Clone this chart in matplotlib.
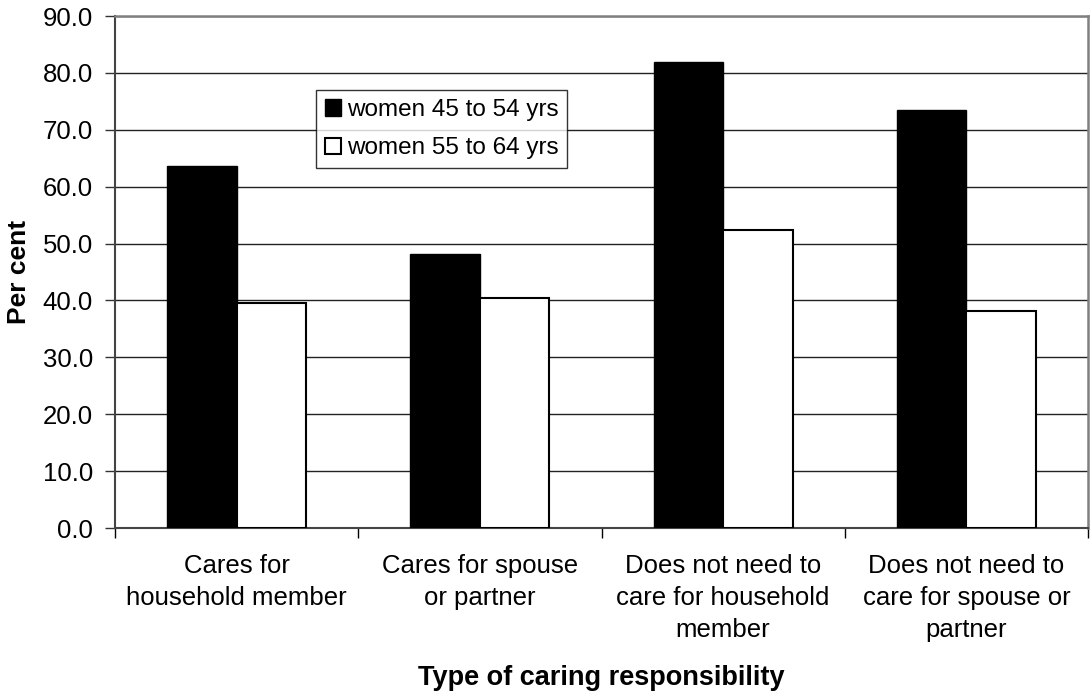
import matplotlib
matplotlib.use("Agg")
import matplotlib.pyplot as plt
import numpy as np

categories = ["Cares for\nhousehold member", "Cares for spouse\nor partner",
              "Does not need to\ncare for household\nmember",
              "Does not need to\ncare for spouse or\npartner"]
series_names = ["women 45 to 54 yrs", "women 55 to 64 yrs"]
women_45_54 = [63.7, 48.1, 82.0, 73.4]
women_55_64 = [39.5, 40.4, 52.4, 38.1]
yticks = [0, 10, 20, 30, 40, 50, 60, 70, 80, 90]

plt.rcParams['font.family'] = ['Liberation Sans', 'DejaVu Sans']

W, H = 1091, 693
fig = plt.figure(figsize=(W/100, H/100), dpi=100)
L, R, T, B = 115, 1088, 16, 528
ax = fig.add_axes([L/W, 1-B/H, (R-L)/W, (B-T)/H])

x = np.arange(len(categories))
bw = 1/3.5
ax.bar(x - bw/2, women_45_54, bw, color='black', edgecolor='black', linewidth=1, label=series_names[0], zorder=3)
ax.bar(x + bw/2, women_55_64, bw, color='white', edgecolor='black', linewidth=1.5, label=series_names[1], zorder=3)

ax.set_xlim(-0.5, len(categories)-0.5)
ax.set_ylim(0, 90)
ax.set_yticks(yticks)
ax.set_yticklabels([f"{v:.1f}" for v in yticks], fontsize=18.5)
ax.yaxis.grid(True, color='#222222', linewidth=1)
ax.set_axisbelow(True)

ax.set_xticks(x)
ax.set_xticklabels(categories, fontsize=18.5, linespacing=1.42, va='top')
ax.tick_params(axis='x', length=0, pad=19)
ax.set_xticks(np.arange(-0.5, len(categories)), minor=True)
ax.tick_params(axis='x', which='minor', length=7, color='black', width=1)
ax.tick_params(axis='y', length=7, color='#333333', width=1, pad=9)

for s in ['top', 'right']:
    ax.spines[s].set_color('#808080')
    ax.spines[s].set_linewidth(1.8)
for s in ['left', 'bottom']:
    ax.spines[s].set_color('#444444')
    ax.spines[s].set_linewidth(1.5)

ax.set_ylabel("Per cent", fontsize=19, fontweight='bold', labelpad=8)
fig.text((L+R)/2/W, 1-678/H, "Type of caring responsibility", fontsize=19.5,
         fontweight='bold', ha='center', va='center')

leg = ax.legend(loc='upper left', bbox_to_anchor=((316-L)/(R-L), 1-(90-T)/(B-T)),
                fontsize=17.5, frameon=True, fancybox=False, edgecolor='black',
                handlelength=0.65, handleheight=0.65, handletextpad=0.25, borderpad=0.37,
                labelspacing=0.67, borderaxespad=0)
leg.get_frame().set_linewidth(1)

fig.savefig("out.png", dpi=100)
